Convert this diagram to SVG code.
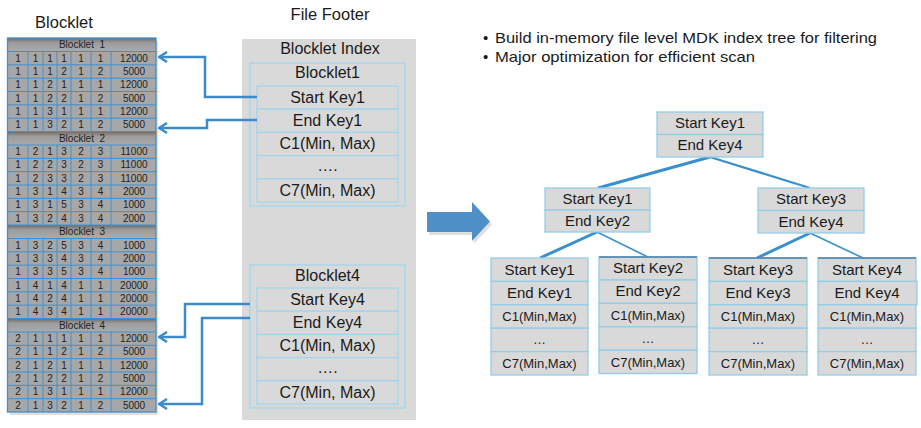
<svg xmlns="http://www.w3.org/2000/svg" width="921" height="428" viewBox="0 0 921 428">
<defs>
<linearGradient id="hdr" x1="0" y1="0" x2="0" y2="1">
<stop offset="0" stop-color="#6a6a6a"/>
<stop offset="0.35" stop-color="#9c9c9c"/>
<stop offset="1" stop-color="#ababab"/>
</linearGradient>
<marker id="ah" viewBox="0 0 10 12" refX="9" refY="6" markerWidth="10" markerHeight="12" markerUnits="userSpaceOnUse" orient="auto">
<path d="M1,1 L9,6 L1,11" fill="none" stroke="#3c8ac9" stroke-width="2.4"/>
</marker>
</defs>
<style>
text{font-family:"Liberation Sans",Arial,sans-serif;fill:#1a1a1a}
.title{font-size:16.5px;text-anchor:middle}
.cell{font-size:10px;text-anchor:middle;fill:#222}
.bh{font-size:10px;text-anchor:middle;white-space:pre;fill:#222}
.fbox{fill:#d9d9d9;stroke:#9fd5ee;stroke-width:1.2}
.ft{font-size:16px;text-anchor:middle}
.tn{fill:#d9d9d9;stroke:#93cde8;stroke-width:1.3}
.tt{font-size:15px;text-anchor:middle}
.ts{font-size:13px;text-anchor:middle}
.grid{stroke:#3f90d2;stroke-width:1;fill:none}
.conn{fill:none;stroke:#3c8ac9;stroke-width:2.5}
.tree{fill:none;stroke:#3a8fcc}
.bul{font-size:15px}
</style>

<text class="title" x="64" y="28">Blocklet</text>
<text class="title" x="330" y="20">File Footer</text>

<g id="table">
<rect x="10" y="41" width="148" height="374" fill="#000" opacity="0.12"/>
<rect x="7.5" y="38" width="148.5" height="374" fill="#a7a7a7"/>
<rect x="7.5" y="38" width="148.5" height="13.5" fill="url(#hdr)"/>
<rect x="7.5" y="131.5" width="148.5" height="13.5" fill="url(#hdr)"/>
<rect x="7.5" y="225" width="148.5" height="13.5" fill="url(#hdr)"/>
<rect x="7.5" y="318.5" width="148.5" height="13.5" fill="url(#hdr)"/>
<path class="grid" d="M7.5,51.5H156M7.5,64.83H156M7.5,78.17H156M7.5,91.5H156M7.5,104.83H156M7.5,118.17H156M7.5,131.5H156M7.5,145H156M7.5,158.33H156M7.5,171.67H156M7.5,185H156M7.5,198.33H156M7.5,211.67H156M7.5,225H156M7.5,238.5H156M7.5,251.83H156M7.5,265.17H156M7.5,278.5H156M7.5,291.83H156M7.5,305.17H156M7.5,318.5H156M7.5,332H156M7.5,345.33H156M7.5,358.67H156M7.5,372H156M7.5,385.33H156M7.5,398.67H156"/>
<path class="grid" d="M28,51.5V131.5M43,51.5V131.5M57,51.5V131.5M71,51.5V131.5M91,51.5V131.5M111,51.5V131.5M28,145V225M43,145V225M57,145V225M71,145V225M91,145V225M111,145V225M28,238.5V318.5M43,238.5V318.5M57,238.5V318.5M71,238.5V318.5M91,238.5V318.5M111,238.5V318.5M28,332V412M43,332V412M57,332V412M71,332V412M91,332V412M111,332V412"/>
<rect x="7.5" y="38" width="148.5" height="374" fill="none" stroke="#3f90d2" stroke-width="1.3"/>
<g id="blocklet1-data">
<text class="bh" x="82" y="48">Blocklet  1</text>
<text class="cell" y="61.5"><tspan x="18">1</tspan><tspan x="35.5">1</tspan><tspan x="50">1</tspan><tspan x="64">1</tspan><tspan x="81">1</tspan><tspan x="100.5">1</tspan><tspan x="134">12000</tspan></text>
<text class="cell" y="74.8"><tspan x="18">1</tspan><tspan x="35.5">1</tspan><tspan x="50">1</tspan><tspan x="64">2</tspan><tspan x="81">1</tspan><tspan x="100.5">2</tspan><tspan x="134">5000</tspan></text>
<text class="cell" y="88.2"><tspan x="18">1</tspan><tspan x="35.5">1</tspan><tspan x="50">2</tspan><tspan x="64">1</tspan><tspan x="81">1</tspan><tspan x="100.5">1</tspan><tspan x="134">12000</tspan></text>
<text class="cell" y="101.5"><tspan x="18">1</tspan><tspan x="35.5">1</tspan><tspan x="50">2</tspan><tspan x="64">2</tspan><tspan x="81">1</tspan><tspan x="100.5">2</tspan><tspan x="134">5000</tspan></text>
<text class="cell" y="114.8"><tspan x="18">1</tspan><tspan x="35.5">1</tspan><tspan x="50">3</tspan><tspan x="64">1</tspan><tspan x="81">1</tspan><tspan x="100.5">1</tspan><tspan x="134">12000</tspan></text>
<text class="cell" y="128.2"><tspan x="18">1</tspan><tspan x="35.5">1</tspan><tspan x="50">3</tspan><tspan x="64">2</tspan><tspan x="81">1</tspan><tspan x="100.5">2</tspan><tspan x="134">5000</tspan></text>
</g>
<g id="blocklet2-data">
<text class="bh" x="82" y="141.5">Blocklet  2</text>
<text class="cell" y="155"><tspan x="18">1</tspan><tspan x="35.5">2</tspan><tspan x="50">1</tspan><tspan x="64">3</tspan><tspan x="81">2</tspan><tspan x="100.5">3</tspan><tspan x="134">11000</tspan></text>
<text class="cell" y="168.3"><tspan x="18">1</tspan><tspan x="35.5">2</tspan><tspan x="50">2</tspan><tspan x="64">3</tspan><tspan x="81">2</tspan><tspan x="100.5">3</tspan><tspan x="134">11000</tspan></text>
<text class="cell" y="181.7"><tspan x="18">1</tspan><tspan x="35.5">2</tspan><tspan x="50">3</tspan><tspan x="64">3</tspan><tspan x="81">2</tspan><tspan x="100.5">3</tspan><tspan x="134">11000</tspan></text>
<text class="cell" y="195"><tspan x="18">1</tspan><tspan x="35.5">3</tspan><tspan x="50">1</tspan><tspan x="64">4</tspan><tspan x="81">3</tspan><tspan x="100.5">4</tspan><tspan x="134">2000</tspan></text>
<text class="cell" y="208.3"><tspan x="18">1</tspan><tspan x="35.5">3</tspan><tspan x="50">1</tspan><tspan x="64">5</tspan><tspan x="81">3</tspan><tspan x="100.5">4</tspan><tspan x="134">1000</tspan></text>
<text class="cell" y="221.7"><tspan x="18">1</tspan><tspan x="35.5">3</tspan><tspan x="50">2</tspan><tspan x="64">4</tspan><tspan x="81">3</tspan><tspan x="100.5">4</tspan><tspan x="134">2000</tspan></text>
</g>
<g id="blocklet3-data">
<text class="bh" x="82" y="235">Blocklet  3</text>
<text class="cell" y="248.5"><tspan x="18">1</tspan><tspan x="35.5">3</tspan><tspan x="50">2</tspan><tspan x="64">5</tspan><tspan x="81">3</tspan><tspan x="100.5">4</tspan><tspan x="134">1000</tspan></text>
<text class="cell" y="261.8"><tspan x="18">1</tspan><tspan x="35.5">3</tspan><tspan x="50">3</tspan><tspan x="64">4</tspan><tspan x="81">3</tspan><tspan x="100.5">4</tspan><tspan x="134">2000</tspan></text>
<text class="cell" y="275.2"><tspan x="18">1</tspan><tspan x="35.5">3</tspan><tspan x="50">3</tspan><tspan x="64">5</tspan><tspan x="81">3</tspan><tspan x="100.5">4</tspan><tspan x="134">1000</tspan></text>
<text class="cell" y="288.5"><tspan x="18">1</tspan><tspan x="35.5">4</tspan><tspan x="50">1</tspan><tspan x="64">4</tspan><tspan x="81">1</tspan><tspan x="100.5">1</tspan><tspan x="134">20000</tspan></text>
<text class="cell" y="301.8"><tspan x="18">1</tspan><tspan x="35.5">4</tspan><tspan x="50">2</tspan><tspan x="64">4</tspan><tspan x="81">1</tspan><tspan x="100.5">1</tspan><tspan x="134">20000</tspan></text>
<text class="cell" y="315.2"><tspan x="18">1</tspan><tspan x="35.5">4</tspan><tspan x="50">3</tspan><tspan x="64">4</tspan><tspan x="81">1</tspan><tspan x="100.5">1</tspan><tspan x="134">20000</tspan></text>
</g>
<g id="blocklet4-data">
<text class="bh" x="82" y="328.5">Blocklet  4</text>
<text class="cell" y="342"><tspan x="18">2</tspan><tspan x="35.5">1</tspan><tspan x="50">1</tspan><tspan x="64">1</tspan><tspan x="81">1</tspan><tspan x="100.5">1</tspan><tspan x="134">12000</tspan></text>
<text class="cell" y="355.3"><tspan x="18">2</tspan><tspan x="35.5">1</tspan><tspan x="50">1</tspan><tspan x="64">2</tspan><tspan x="81">1</tspan><tspan x="100.5">2</tspan><tspan x="134">5000</tspan></text>
<text class="cell" y="368.7"><tspan x="18">2</tspan><tspan x="35.5">1</tspan><tspan x="50">2</tspan><tspan x="64">1</tspan><tspan x="81">1</tspan><tspan x="100.5">1</tspan><tspan x="134">12000</tspan></text>
<text class="cell" y="382"><tspan x="18">2</tspan><tspan x="35.5">1</tspan><tspan x="50">2</tspan><tspan x="64">2</tspan><tspan x="81">1</tspan><tspan x="100.5">2</tspan><tspan x="134">5000</tspan></text>
<text class="cell" y="395.3"><tspan x="18">2</tspan><tspan x="35.5">1</tspan><tspan x="50">3</tspan><tspan x="64">1</tspan><tspan x="81">1</tspan><tspan x="100.5">1</tspan><tspan x="134">12000</tspan></text>
<text class="cell" y="408.7"><tspan x="18">2</tspan><tspan x="35.5">1</tspan><tspan x="50">3</tspan><tspan x="64">2</tspan><tspan x="81">1</tspan><tspan x="100.5">2</tspan><tspan x="134">5000</tspan></text>
</g>
</g>

<g id="file-footer">
<rect x="242" y="39" width="174" height="381" fill="#d9d9d9"/>
<text class="ft" x="330" y="54">Blocklet Index</text>
<g id="footer-blocklet1">
<rect class="fbox" x="250" y="63" width="155" height="143"/>
<text class="ft" x="327.5" y="78">Blocklet1</text>
<rect class="fbox" x="257" y="86" width="141" height="23.2"/>
<rect class="fbox" x="257" y="109.2" width="141" height="23.2"/>
<rect class="fbox" x="257" y="132.4" width="141" height="23.2"/>
<rect class="fbox" x="257" y="155.6" width="141" height="23.2"/>
<rect class="fbox" x="257" y="178.8" width="141" height="23.2"/>
<text class="ft" x="327.5" y="103">Start Key1</text>
<text class="ft" x="327.5" y="126.2">End Key1</text>
<text class="ft" x="327.5" y="149.4">C1(Min, Max)</text>
<text class="ft" x="327.5" y="170.6">….</text>
<text class="ft" x="327.5" y="195.8">C7(Min, Max)</text>
</g>
<g id="footer-blocklet4">
<rect class="fbox" x="250" y="265" width="155" height="143"/>
<text class="ft" x="327.5" y="281">Blocklet4</text>
<rect class="fbox" x="257" y="288" width="141" height="23.2"/>
<rect class="fbox" x="257" y="311.2" width="141" height="23.2"/>
<rect class="fbox" x="257" y="334.4" width="141" height="23.2"/>
<rect class="fbox" x="257" y="357.6" width="141" height="23.2"/>
<rect class="fbox" x="257" y="380.8" width="141" height="23.2"/>
<text class="ft" x="327.5" y="305">Start Key4</text>
<text class="ft" x="327.5" y="328.2">End Key4</text>
<text class="ft" x="327.5" y="351.4">C1(Min, Max)</text>
<text class="ft" x="327.5" y="372.6">….</text>
<text class="ft" x="327.5" y="397.8">C7(Min, Max)</text>
</g>
</g>

<g id="big-arrow">
<polygon points="429,215 474,215 474,205 492,224.5 474,244 474,235 429,235" fill="#000" opacity="0.12"/>
<polygon points="427,212 472,212 472,202 490,221.5 472,241 472,232 427,232" fill="#4f8fc7"/>
</g>

<g id="bullets">
<text class="bul" x="483" y="43">•</text>
<text class="bul" x="495" y="43" textLength="382" lengthAdjust="spacingAndGlyphs">Build in-memory file level MDK index tree for filtering</text>
<text class="bul" x="483" y="62">•</text>
<text class="bul" x="495" y="62" textLength="260" lengthAdjust="spacingAndGlyphs">Major optimization for efficient scan</text>
</g>

<g id="connectors">
<path class="conn" d="M257,97 H205 V57 H159" marker-end="url(#ah)"/>
<path class="conn" d="M257,120 H207 V128 H159" marker-end="url(#ah)"/>
<path class="conn" d="M250,304 H185 V337 H159" marker-end="url(#ah)"/>
<path class="conn" d="M250,318 H202 V404 H159" marker-end="url(#ah)"/>
<path class="tree" stroke-width="3" d="M710,157 L598,188"/>
<path class="tree" stroke-width="2.2" d="M710,157 L810,188"/>
<path class="tree" stroke-width="3" d="M597,232 L540,258"/>
<path class="tree" stroke-width="1.6" d="M597,232 L648,257"/>
<path class="tree" stroke-width="3" d="M810,233 L757,258"/>
<path class="tree" stroke-width="1.6" d="M810,233 L863,258"/>
</g>

<g id="tree-root">
<rect class="tn" x="657" y="112" width="106" height="22.5"/>
<rect class="tn" x="657" y="134.5" width="106" height="22.5"/>
<text class="tt" x="710" y="127.5">Start Key1</text>
<text class="tt" x="710" y="150">End Key4</text>
</g>
<g id="tree-l2-left">
<rect class="tn" x="545" y="188" width="105" height="22"/>
<rect class="tn" x="545" y="210" width="105" height="22"/>
<text class="tt" x="597.5" y="203.5">Start Key1</text>
<text class="tt" x="597.5" y="226">End Key2</text>
</g>
<g id="tree-l2-right">
<rect class="tn" x="758" y="188" width="106" height="22.5"/>
<rect class="tn" x="758" y="210.5" width="106" height="22.5"/>
<text class="tt" x="811" y="204">Start Key3</text>
<text class="tt" x="811" y="226.5">End Key4</text>
</g>
<g id="leaf1">
<rect class="tn" x="491" y="258" width="97" height="23.4"/>
<rect class="tn" x="491" y="281.4" width="97" height="23.4"/>
<rect class="tn" x="491" y="304.8" width="97" height="23.4"/>
<rect class="tn" x="491" y="328.2" width="97" height="23.4"/>
<rect class="tn" x="491" y="351.6" width="97" height="23.4"/>
<text class="tt" x="539.5" y="274.5">Start Key1</text>
<text class="tt" x="539.5" y="297.5">End Key1</text>
<text class="ts" x="539.5" y="321">C1(Min,Max)</text>
<text class="ts" x="539.5" y="344">…</text>
<text class="ts" x="539.5" y="368">C7(Min,Max)</text>
</g>
<g id="leaf2">
<rect class="tn" x="599" y="257" width="98" height="23"/>
<rect class="tn" x="599" y="280" width="98" height="23.4"/>
<rect class="tn" x="599" y="303.4" width="98" height="23.4"/>
<rect class="tn" x="599" y="326.8" width="98" height="23.4"/>
<rect class="tn" x="599" y="350.2" width="98" height="23.4"/>
<path d="M599,257 H697" stroke="#4a7ea6" stroke-width="1.3"/>
<text class="tt" x="648" y="272.5">Start Key2</text>
<text class="tt" x="648" y="296">End Key2</text>
<text class="ts" x="648" y="319.5">C1(Min,Max)</text>
<text class="ts" x="648" y="342.5">…</text>
<text class="ts" x="648" y="366.5">C7(Min,Max)</text>
</g>
<g id="leaf3">
<rect class="tn" x="709" y="258" width="98" height="23.4"/>
<rect class="tn" x="709" y="281.4" width="98" height="23.4"/>
<rect class="tn" x="709" y="304.8" width="98" height="23.4"/>
<rect class="tn" x="709" y="328.2" width="98" height="23.4"/>
<rect class="tn" x="709" y="351.6" width="98" height="23.4"/>
<path d="M709,258 H807" stroke="#4a7ea6" stroke-width="1.3"/>
<text class="tt" x="758" y="274.5">Start Key3</text>
<text class="tt" x="758" y="297.5">End Key3</text>
<text class="ts" x="758" y="321">C1(Min,Max)</text>
<text class="ts" x="758" y="344">…</text>
<text class="ts" x="758" y="368">C7(Min,Max)</text>
</g>
<g id="leaf4">
<rect class="tn" x="818" y="258" width="98" height="23.4"/>
<rect class="tn" x="818" y="281.4" width="99" height="23.4"/>
<rect class="tn" x="818" y="304.8" width="98" height="23.4"/>
<rect class="tn" x="818" y="328.2" width="98" height="23.4"/>
<rect class="tn" x="818" y="351.6" width="98" height="23.4"/>
<path d="M818,258 H916" stroke="#4a7ea6" stroke-width="1.3"/>
<text class="tt" x="867" y="274.5">Start Key4</text>
<text class="tt" x="867" y="297.5">End Key4</text>
<text class="ts" x="867" y="321">C1(Min,Max)</text>
<text class="ts" x="867" y="344">…</text>
<text class="ts" x="867" y="368">C7(Min,Max)</text>
</g>
</svg>
